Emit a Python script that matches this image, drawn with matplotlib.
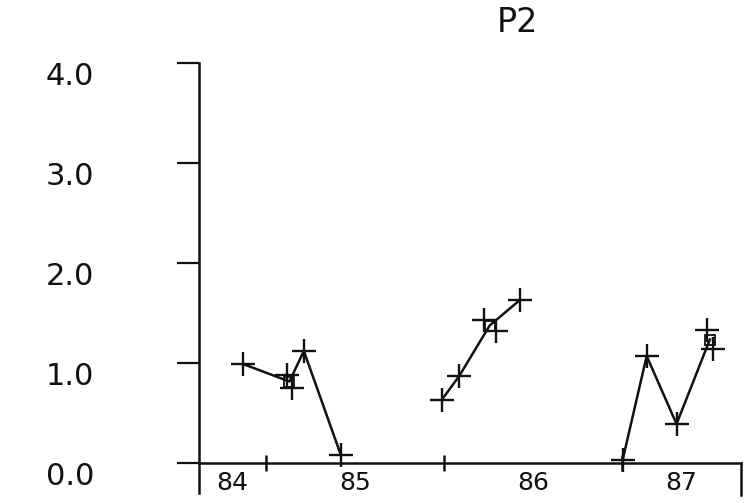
#!/usr/bin/env python3

import numpy as np
import matplotlib
matplotlib.use("Agg")
matplotlib.rcParams["font.family"] = "DejaVu Sans"
import matplotlib.pyplot as plt

# individual observations (decimal year, value)
OBS_X = [1984.871, 1985.118, 1985.146, 1985.213, 1985.421,
         1985.987, 1986.086, 1986.225, 1986.290, 1986.427,
         1987.004, 1987.139, 1987.307, 1987.476, 1987.513]
OBS_Y = [0.99, 0.88, 0.75, 1.12, 0.08,
         0.63, 0.87, 1.43, 1.32, 1.63,
         0.03, 1.07, 0.39, 1.33, 1.14]

# connecting line, one segment per sampling campaign
SEG_X = [[1984.871, 1985.132, 1985.213, 1985.421],
         [1985.987, 1986.086, 1986.257, 1986.427],
         [1987.004, 1987.139, 1987.307, 1987.494]]
SEG_Y = [[0.99, 0.815, 1.12, 0.08],
         [0.63, 0.87, 1.375, 1.63],
         [0.03, 1.07, 0.39, 1.235]]

# averaged points drawn as open squares
AVG_X = [1985.132, 1986.257, 1987.494]
AVG_Y = [0.815, 1.375, 1.235]

YEARS       = [1984, 1985, 1986, 1987]
YEAR_LABELS = ["84", "85", "86", "87"]
Y_TICKS     = [0.0, 1.0, 2.0, 3.0, 4.0]
Y_LABELS    = ["0.0", "1.0", "2.0", "3.0", "4.0"]
TITLE       = "P2"

X_MIN, X_MAX = 1984.624, 1987.669
Y_MIN, Y_MAX = 0.0, 4.0
INK = "#111111"

fig = plt.figure(figsize=(7.5, 5.03), dpi=100, facecolor="white")
ax = fig.add_axes([199/750, 40/503, 542/750, 400/503])
ax.set_facecolor("white")
ax.set_xlim(X_MIN, X_MAX)
ax.set_ylim(Y_MIN, Y_MAX)

for sx, sy in zip(SEG_X, SEG_Y):
    ax.plot(sx, sy, color=INK, lw=1.8, zorder=3, clip_on=False)
ax.plot(OBS_X, OBS_Y, ls="none", marker="+", ms=17, mew=1.7,
        color=INK, zorder=4, clip_on=False)
ax.plot(AVG_X, AVG_Y, ls="none", marker="s", ms=7, mew=1.3,
        mfc="none", mec=INK, zorder=4, clip_on=False)

# axes frame: only left and bottom, both running a little past the corner
for side in ["top", "right"]:
    ax.spines[side].set_visible(False)
for side in ["left", "bottom"]:
    ax.spines[side].set_color(INK)
    ax.spines[side].set_linewidth(1.8)
ax.spines["left"].set_bounds(-0.3, Y_MAX)
ax.spines["left"].set_clip_on(False)
ax.axvline(X_MAX, ymin=-0.08, ymax=0, color=INK, lw=1.8, clip_on=False)

# y ticks, labels far to the left, top aligned at the tick
ax.set_yticks(Y_TICKS)
ax.set_yticklabels([])
ax.tick_params(axis="y", direction="out", length=16, width=1.6, color=INK)
for val, lab in zip(Y_TICKS, Y_LABELS):
    ax.text(-0.238, val + 0.01, lab, transform=ax.get_yaxis_transform(),
            ha="center", va="top", fontsize=22, color=INK)

# x: year boundaries as ticks, year names centred in the visible part
ax.set_xticks(YEARS[1:])
ax.set_xticklabels([])
ax.tick_params(axis="x", which="major", direction="inout", length=12,
               width=1.8, color=INK)
mids = [(max(y, X_MIN) + min(y + 1, X_MAX)) / 2 for y in YEARS]
ax.set_xticks(mids, minor=True)
ax.set_xticklabels(YEAR_LABELS, minor=True, fontsize=18, color=INK)
ax.tick_params(axis="x", which="minor", length=0, pad=6)

fig.text(517/750, 1 - 6/503, TITLE, ha="center", va="top",
         fontsize=24, color=INK)

plt.savefig("out.png", dpi=100, facecolor="white")
plt.close()
